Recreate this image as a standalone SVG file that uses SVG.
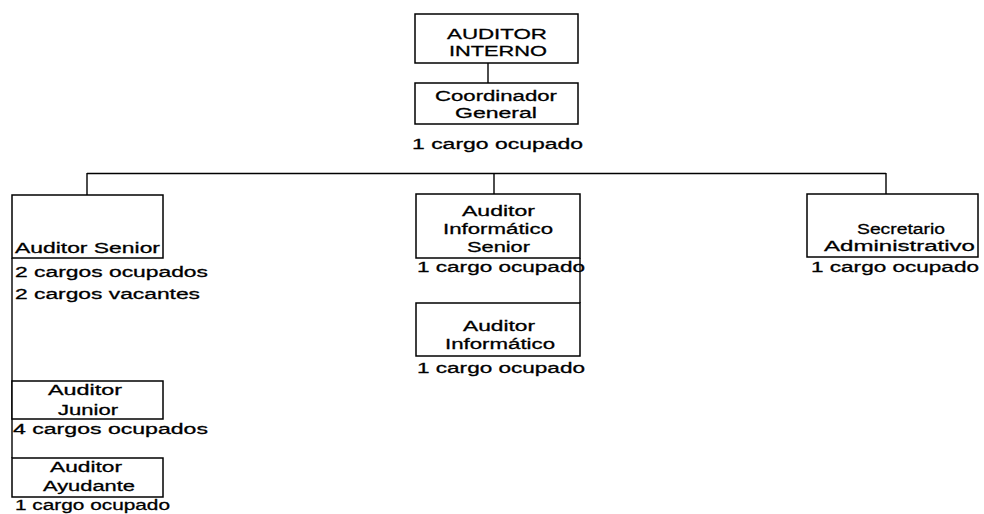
<svg xmlns="http://www.w3.org/2000/svg" width="984" height="514" viewBox="0 0 984 514">
<style>
  .box { fill: #ffffff; stroke: #000000; stroke-width: 1.5; }
  .ln { stroke: #000000; stroke-width: 1.4; fill: none; }
  text { font-family: "Liberation Sans", Arial, sans-serif; font-size: 15.5px; fill: #000000; stroke: #000000; stroke-width: 0.3; }
</style>
<rect x="0" y="0" width="984" height="514" fill="#ffffff"/>
<g id="connectors">
  <line class="ln" x1="488" y1="63" x2="488" y2="83"/>
  <line class="ln" x1="87" y1="173.5" x2="886" y2="173.5"/>
  <line class="ln" x1="87" y1="173" x2="87" y2="195"/>
  <line class="ln" x1="494" y1="173" x2="494" y2="194"/>
  <line class="ln" x1="886" y1="173" x2="886" y2="194"/>
  <line class="ln" x1="12" y1="258" x2="12" y2="458"/>
  <line class="ln" x1="580" y1="258" x2="580" y2="303"/>
</g>
<g id="auditor-interno">
  <rect class="box" x="415" y="14" width="163" height="49"/>
  <text x="447" y="39" textLength="100" lengthAdjust="spacingAndGlyphs">AUDITOR</text>
  <text x="449" y="56" textLength="98" lengthAdjust="spacingAndGlyphs">INTERNO</text>
</g>
<g id="coordinador-general">
  <rect class="box" x="415" y="83" width="163" height="41"/>
  <text x="435" y="101" textLength="122" lengthAdjust="spacingAndGlyphs">Coordinador</text>
  <text x="455" y="118" textLength="82" lengthAdjust="spacingAndGlyphs">General</text>
  <text x="412" y="149" textLength="171" lengthAdjust="spacingAndGlyphs">1 cargo ocupado</text>
</g>
<g id="auditor-senior">
  <rect class="box" x="12" y="195" width="151" height="63"/>
  <text x="15" y="253" textLength="145" lengthAdjust="spacingAndGlyphs">Auditor Senior</text>
  <text x="15" y="277" textLength="193" lengthAdjust="spacingAndGlyphs">2 cargos ocupados</text>
  <text x="15" y="299" textLength="185" lengthAdjust="spacingAndGlyphs">2 cargos vacantes</text>
</g>
<g id="auditor-junior">
  <rect class="box" x="12" y="381" width="151" height="38"/>
  <text x="48" y="395" textLength="74" lengthAdjust="spacingAndGlyphs">Auditor</text>
  <text x="58" y="415" textLength="60" lengthAdjust="spacingAndGlyphs">Junior</text>
  <text x="13" y="434" textLength="195" lengthAdjust="spacingAndGlyphs">4 cargos ocupados</text>
</g>
<g id="auditor-ayudante">
  <rect class="box" x="12" y="458" width="151" height="39"/>
  <text x="50" y="472" textLength="72" lengthAdjust="spacingAndGlyphs">Auditor</text>
  <text x="43" y="491" textLength="92" lengthAdjust="spacingAndGlyphs">Ayudante</text>
  <text x="15" y="510" textLength="155" lengthAdjust="spacingAndGlyphs">1 cargo ocupado</text>
</g>
<g id="auditor-informatico-senior">
  <rect class="box" x="416" y="194" width="164" height="64"/>
  <text x="462" y="216" textLength="73" lengthAdjust="spacingAndGlyphs">Auditor</text>
  <text x="443" y="234" textLength="110" lengthAdjust="spacingAndGlyphs">Informático</text>
  <text x="467" y="252" textLength="63" lengthAdjust="spacingAndGlyphs">Senior</text>
  <text x="417" y="272" textLength="168" lengthAdjust="spacingAndGlyphs">1 cargo ocupado</text>
</g>
<g id="auditor-informatico">
  <rect class="box" x="416" y="303" width="164" height="53"/>
  <text x="463" y="331" textLength="72" lengthAdjust="spacingAndGlyphs">Auditor</text>
  <text x="445" y="349" textLength="110" lengthAdjust="spacingAndGlyphs">Informático</text>
  <text x="417" y="373" textLength="168" lengthAdjust="spacingAndGlyphs">1 cargo ocupado</text>
</g>
<g id="secretario-administrativo">
  <rect class="box" x="807" y="194" width="171" height="63"/>
  <text x="857" y="234" textLength="88" lengthAdjust="spacingAndGlyphs">Secretario</text>
  <text x="824" y="251" textLength="151" lengthAdjust="spacingAndGlyphs">Administrativo</text>
  <text x="811" y="272" textLength="168" lengthAdjust="spacingAndGlyphs">1 cargo ocupado</text>
</g>
</svg>
